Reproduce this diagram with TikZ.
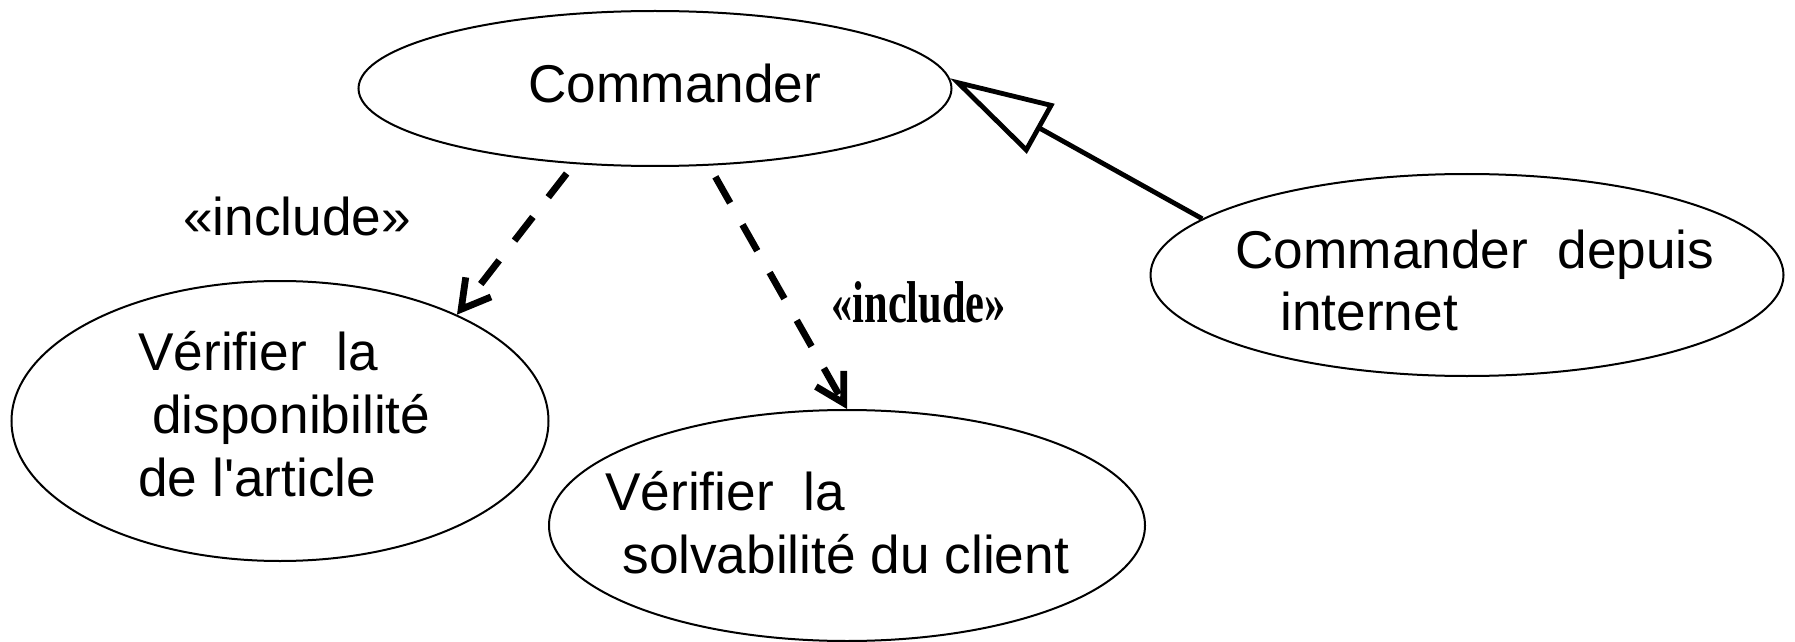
\documentclass[tikz,border=0pt]{standalone}
\usepackage{fontspec}
\usepackage{graphicx}
\setmainfont{Liberation Sans}
\newfontfamily\stereofont{Liberation Serif}
\usetikzlibrary{shapes.geometric,arrows.meta}

\begin{document}
\begin{tikzpicture}[x=0.5pt,y=-0.5pt,
  usecase/.style={draw, ellipse, line width=1pt, inner sep=0pt},
  casetext/.style={anchor=base west, inner sep=0pt, font=\fontsize{26.6}{31.5}\selectfont},
  includearrow/.style={line width=3.4pt, dash pattern=on 15pt off 12.5pt,
    -{Straight Barb[length=14pt,width=16pt]}},
  generalarrow/.style={line width=2.4pt,
    -{Triangle[open,length=52pt,width=28pt,fill=white]}},
]
\useasboundingbox (0,0) rectangle (1795,642);

% use cases
\node[usecase, minimum width=296.5pt, minimum height=77.5pt] (cmd)   at (655,88.5) {};
\node[usecase, minimum width=268.5pt, minimum height=140pt]  (dispo) at (280,421) {};
\node[usecase, minimum width=298pt,   minimum height=115.5pt] (solv) at (847,525.5) {};
\node[usecase, minimum width=316.5pt, minimum height=101pt]  (web)   at (1467,275) {};

% use case names
\node[casetext] (cmd-name) at (528,103) {Commander};
\node[casetext] (dispo-name) at (138,370)
  {\begin{tabular}[t]{@{}l@{}}Vérifier\ \ la\\\hspace*{7pt}disponibilité\\de l\textquotesingle article\end{tabular}};
\node[casetext] (solv-name) at (605,510)
  {\begin{tabular}[t]{@{}l@{}}Vérifier\ \ la\\\hspace*{8.5pt}solvabilité du client\end{tabular}};
\node[casetext] (web-name) at (1235,268)
  {\begin{tabular}[t]{@{}l@{}}Commander\ \ depuis\\\hspace*{22.5pt}internet\end{tabular}};

% relations
\draw[includearrow, shorten <=6pt]   (cmd.223.5) -- (dispo.31.8);
\draw[includearrow, shorten <=6.4pt] (cmd.305.8) -- (solv.north);
\draw[generalarrow] (web.168) -- (cmd.2);

% stereotypes
\node[casetext] (inc-dispo) at (183,235) {«include»};
\node[anchor=base west, inner sep=0pt, font=\fontsize{29.5}{32}\selectfont] (inc-solv) at (831,322)
  {\scalebox{0.72}[1]{\stereofont\bfseries «include»}};
\end{tikzpicture}
\end{document}
